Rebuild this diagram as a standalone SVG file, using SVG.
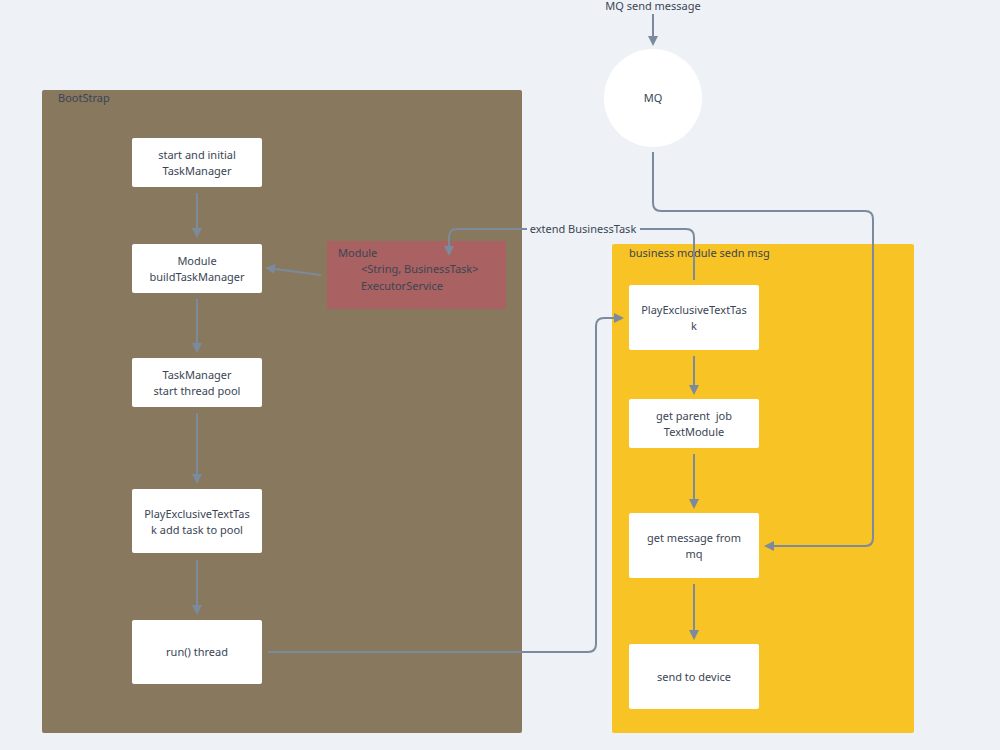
<svg xmlns="http://www.w3.org/2000/svg" width="1000" height="750" viewBox="0 0 1000 750">
<defs>
<style>
text{font-family:"Noto Sans","Liberation Sans",sans-serif;font-size:11px;fill:#3b4555}
.c{text-anchor:middle}
.n{fill:#ffffff;stroke:none}
.e{fill:none;stroke:#7b8a9d;stroke-width:2}
</style>
<marker id="a" viewBox="0 0 10 10" refX="8" refY="5" markerWidth="5" markerHeight="5" orient="auto" markerUnits="strokeWidth">
<path d="M0,0 L10,5 L0,10 z" fill="#7b8a9d"/>
</marker>
</defs>
<rect width="1000" height="750" fill="#eef2f6"/>
<g id="bootstrap">
<rect x="42" y="90" width="480" height="643" fill="#88785e" rx="2"/>
<text x="58" y="102">BootStrap</text>
</g>
<g id="business">
<rect x="612" y="244" width="302" height="489" fill="#f7c325" rx="2"/>
<text x="629" y="257">business module sedn msg</text>
</g>
<g id="mqlabel"><text class="c" x="653" y="10">MQ send message</text></g>
<g id="mq"><circle cx="653" cy="98" r="49" fill="#ffffff"/><text class="c" x="653" y="102">MQ</text></g>
<g id="n1"><rect class="n" x="132" y="138" width="130" height="49" rx="2"/><text class="c" x="197" y="159">start and initial</text><text class="c" x="197" y="175">TaskManager</text></g>
<g id="n2"><rect class="n" x="132" y="244" width="130" height="49" rx="2"/><text class="c" x="197" y="265">Module</text><text class="c" x="197" y="281">buildTaskManager</text></g>
<g id="n3"><rect class="n" x="132" y="358" width="130" height="49" rx="2"/><text class="c" x="197" y="379">TaskManager</text><text class="c" x="197" y="395">start thread pool</text></g>
<g id="n4"><rect class="n" x="132" y="489" width="130" height="64" rx="2"/><text class="c" x="197" y="518">PlayExclusiveTextTas</text><text class="c" x="197" y="534">k add task to pool</text></g>
<g id="n5"><rect class="n" x="132" y="620" width="130" height="64" rx="2"/><text class="c" x="197" y="656">run() thread</text></g>
<g id="exec"><rect x="327" y="241" width="179" height="68" fill="#a96161" rx="1"/><text x="338" y="257">Module</text><text x="361" y="273">&lt;String, BusinessTask&gt;</text><text x="361" y="290">ExecutorService</text></g>
<g id="m1"><rect class="n" x="629" y="285" width="130" height="65" rx="2"/><text class="c" x="694" y="314">PlayExclusiveTextTas</text><text class="c" x="694" y="330">k</text></g>
<g id="m2"><rect class="n" x="629" y="399" width="130" height="49" rx="2"/><text class="c" x="694" y="420" style="white-space:pre">get parent  job</text><text class="c" x="694" y="436">TextModule</text></g>
<g id="m3"><rect class="n" x="629" y="513" width="130" height="65" rx="2"/><text class="c" x="694" y="542">get message from</text><text class="c" x="694" y="558">mq</text></g>
<g id="m4"><rect class="n" x="629" y="644" width="130" height="65" rx="2"/><text class="c" x="694" y="681">send to device</text></g>
<g id="connectors">
<path class="e" d="M653,14 V44" marker-end="url(#a)"/>
<path class="e" d="M197,193 V236" marker-end="url(#a)"/>
<path class="e" d="M197,299 V351" marker-end="url(#a)"/>
<path class="e" d="M197,413 V482" marker-end="url(#a)"/>
<path class="e" d="M197,560 V613" marker-end="url(#a)"/>
<path class="e" d="M321,275 L267,268" marker-end="url(#a)"/>
<path class="e" d="M268,652 H588 Q596,652 596,644 V326 Q596,318 604,318 H622" marker-end="url(#a)"/>
<path class="e" d="M653,152 V203 Q653,211 661,211 H865 Q873,211 873,219 V538 Q873,546 865,546 H766" marker-end="url(#a)"/>
<path class="e" d="M694,280 V237 Q694,229 686,229 H640 M527,229 H457 Q449,229 449,237 V254" marker-end="url(#a)"/>
<path class="e" d="M694,356 V393" marker-end="url(#a)"/>
<path class="e" d="M694,454 V507" marker-end="url(#a)"/>
<path class="e" d="M694,584 V638" marker-end="url(#a)"/>
<text class="c" x="583" y="233">extend BusinessTask</text>
</g>
</svg>
